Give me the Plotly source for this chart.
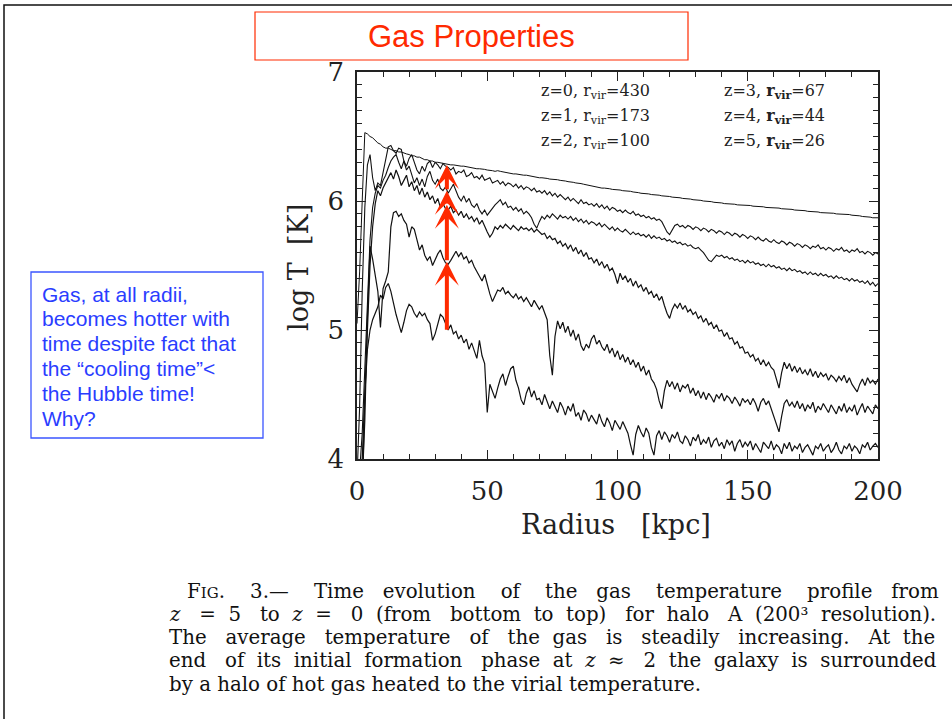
import re
import plotly.graph_objects as go

# ---------------------------------------------------------------------------
# Gas temperature profiles (log T [K]) versus radius [kpc], one per redshift
# ---------------------------------------------------------------------------
RADIUS_KPC = list(range(0, 201))

REDSHIFTS = [0, 1, 2, 3, 4, 5]
R_VIR = [430, 173, 100, 67, 44, 26]

LOGT_Z0 = [
    5.05, 5.45, 6.00, 6.53, 6.52, 6.50, 6.49, 6.47, 6.45, 6.44,
    6.42, 6.41, 6.41, 6.40, 6.39, 6.39, 6.38, 6.38, 6.37, 6.365,
    6.36, 6.35, 6.35, 6.34, 6.34, 6.33, 6.32, 6.32, 6.31, 6.31,
    6.30, 6.30, 6.295, 6.29, 6.29, 6.285, 6.28, 6.28, 6.275, 6.27,
    6.27, 6.27, 6.265, 6.26, 6.26, 6.255, 6.25, 6.25, 6.25, 6.245,
    6.24, 6.24, 6.235, 6.23, 6.235, 6.23, 6.225, 6.22, 6.22, 6.215,
    6.21, 6.21, 6.205, 6.20, 6.20, 6.20, 6.195, 6.19, 6.19, 6.185,
    6.18, 6.18, 6.18, 6.175, 6.17, 6.17, 6.17, 6.165, 6.16, 6.16,
    6.155, 6.15, 6.15, 6.145, 6.14, 6.14, 6.135, 6.13, 6.125, 6.12,
    6.115, 6.11, 6.11, 6.105, 6.10, 6.10, 6.10, 6.095, 6.09, 6.09,
    6.09, 6.085, 6.08, 6.08, 6.08, 6.075, 6.07, 6.07, 6.065, 6.06,
    6.06, 6.06, 6.055, 6.05, 6.05, 6.05, 6.045, 6.04, 6.04, 6.04,
    6.035, 6.03, 6.03, 6.03, 6.025, 6.02, 6.02, 6.02, 6.015, 6.01,
    6.01, 6.01, 6.005, 6.00, 6.00, 6.00, 5.995, 5.99, 5.99, 5.99,
    5.985, 5.98, 5.98, 5.98, 5.98, 5.975, 5.97, 5.97, 5.97, 5.97,
    5.97, 5.965, 5.96, 5.96, 5.96, 5.96, 5.955, 5.95, 5.95, 5.95,
    5.95, 5.95, 5.945, 5.94, 5.94, 5.94, 5.94, 5.935, 5.93, 5.93,
    5.93, 5.93, 5.925, 5.92, 5.92, 5.92, 5.92, 5.915, 5.91, 5.91,
    5.91, 5.91, 5.91, 5.905, 5.90, 5.90, 5.90, 5.90, 5.90, 5.895,
    5.89, 5.89, 5.89, 5.885, 5.88, 5.88, 5.88, 5.875, 5.87, 5.87, 5.87,
]

LOGT_Z1 = [
    3.85, 4.40, 5.30, 5.95, 6.28, 6.36, 6.18, 6.08, 6.14, 6.12,
    6.22, 6.32, 6.42, 6.43, 6.39, 6.37, 6.41, 6.40, 6.31, 6.27,
    6.33, 6.36, 6.29, 6.24, 6.21, 6.27, 6.23, 6.29, 6.31, 6.26,
    6.30, 6.28, 6.25, 6.29, 6.27, 6.26, 6.24, 6.26, 6.21, 6.23,
    6.22, 6.24, 6.19, 6.20, 6.22, 6.18, 6.19, 6.17, 6.20, 6.16,
    6.17, 6.18, 6.14, 6.15, 6.16, 6.13, 6.15, 6.12, 6.14, 6.13,
    6.11, 6.13, 6.10, 6.12, 6.09, 6.11, 6.10, 6.08, 6.10, 6.07,
    6.08, 6.06, 6.08, 6.05, 6.07, 6.04, 6.06, 6.03, 6.05, 6.03,
    6.01, 6.03, 6.00, 6.02, 6.00, 5.98, 6.01, 5.98, 5.99, 5.97,
    5.98, 5.96, 5.98, 5.95, 5.97, 5.94, 5.96, 5.93, 5.95, 5.94,
    5.92, 5.93, 5.91, 5.93, 5.91, 5.90, 5.92, 5.89, 5.90, 5.88,
    5.89, 5.87, 5.88, 5.86, 5.87, 5.85, 5.86, 5.84, 5.80, 5.76,
    5.74, 5.78, 5.81, 5.82, 5.80, 5.81, 5.79, 5.81, 5.80, 5.78,
    5.80, 5.79, 5.77, 5.79, 5.78, 5.76, 5.78, 5.77, 5.75, 5.77,
    5.76, 5.74, 5.76, 5.75, 5.73, 5.75, 5.74, 5.72, 5.74, 5.73,
    5.71, 5.73, 5.72, 5.70, 5.72, 5.70, 5.69, 5.71, 5.69, 5.68,
    5.70, 5.68, 5.67, 5.69, 5.68, 5.66, 5.68, 5.67, 5.65, 5.67,
    5.66, 5.64, 5.66, 5.65, 5.63, 5.65, 5.64, 5.66, 5.63, 5.64,
    5.62, 5.64, 5.63, 5.61, 5.63, 5.62, 5.64, 5.61, 5.62, 5.60,
    5.62, 5.61, 5.63, 5.60, 5.61, 5.59, 5.61, 5.60, 5.58, 5.60, 5.59,
]

LOGT_Z2 = [
    3.80, 3.90, 4.20, 4.70, 5.30, 5.70, 5.95, 6.06, 6.12, 6.10,
    6.16, 6.20, 6.26, 6.31, 6.34, 6.36, 6.30, 6.25, 6.31, 6.24,
    6.27, 6.20, 6.14, 6.18, 6.12, 6.17, 6.11, 6.19, 6.23, 6.16,
    6.13, 6.17, 6.10, 6.08, 6.11, 6.06, 6.09, 6.13, 6.08, 6.03,
    6.00, 6.04, 5.99, 6.02, 5.97, 5.95, 5.98, 5.93, 5.90, 5.93,
    5.89, 5.92, 5.95, 5.97, 5.99, 6.01, 5.97, 5.99, 5.95, 5.96,
    5.93, 5.95, 5.92, 5.94, 5.90, 5.92, 5.90, 5.87, 5.82, 5.79,
    5.84, 5.88, 5.86, 5.89, 5.87, 5.90, 5.88, 5.86, 5.89, 5.87,
    5.88, 5.86, 5.88, 5.85, 5.87, 5.84, 5.86, 5.83, 5.85, 5.82,
    5.84, 5.83, 5.81, 5.83, 5.80, 5.82, 5.80, 5.78, 5.80, 5.77,
    5.79, 5.77, 5.76, 5.78, 5.76, 5.74, 5.76, 5.74, 5.75, 5.73,
    5.74, 5.72, 5.74, 5.71, 5.73, 5.71, 5.72, 5.70, 5.71, 5.69,
    5.70, 5.68, 5.69, 5.67, 5.68, 5.66, 5.67, 5.65, 5.66, 5.64,
    5.63, 5.64, 5.62, 5.60, 5.57, 5.54, 5.53, 5.56, 5.58, 5.57,
    5.58, 5.56, 5.57, 5.55, 5.56, 5.54, 5.55, 5.53, 5.54, 5.52,
    5.54, 5.52, 5.53, 5.51, 5.52, 5.50, 5.51, 5.49, 5.51, 5.49,
    5.50, 5.48, 5.49, 5.47, 5.48, 5.46, 5.48, 5.46, 5.47, 5.45,
    5.46, 5.44, 5.45, 5.43, 5.45, 5.43, 5.44, 5.42, 5.44, 5.42,
    5.43, 5.41, 5.42, 5.40, 5.42, 5.40, 5.41, 5.39, 5.40, 5.38,
    5.40, 5.38, 5.39, 5.37, 5.38, 5.36, 5.38, 5.35, 5.37, 5.34, 5.36,
]

LOGT_Z3 = [
    3.60, 3.70, 4.00, 4.50, 5.10, 5.50, 5.80, 5.98, 6.08, 6.04,
    6.10, 6.14, 6.18, 6.22, 6.17, 6.24, 6.19, 6.12, 6.16, 6.20,
    6.11, 6.15, 6.08, 6.12, 6.05, 6.10, 6.03, 6.07, 6.01, 6.04,
    5.98, 6.02, 5.95, 5.98, 5.94, 5.93, 5.96, 5.91, 5.93, 5.89,
    5.92, 5.87, 5.90, 5.86, 5.88, 5.84, 5.87, 5.82, 5.85, 5.80,
    5.76, 5.72, 5.75, 5.80, 5.78, 5.81, 5.79, 5.82, 5.80, 5.78,
    5.81, 5.79, 5.77, 5.80, 5.78, 5.79, 5.77, 5.79, 5.76, 5.78,
    5.76, 5.74, 5.75, 5.71, 5.73, 5.70, 5.71, 5.67, 5.69, 5.65,
    5.67, 5.63, 5.66, 5.61, 5.64, 5.59, 5.62, 5.57, 5.60, 5.55,
    5.56, 5.52, 5.55, 5.50, 5.53, 5.48, 5.51, 5.46, 5.48, 5.43,
    5.36, 5.44, 5.39, 5.42, 5.37, 5.40, 5.34, 5.38, 5.33, 5.35,
    5.30, 5.33, 5.28, 5.30, 5.25, 5.28, 5.23, 5.26, 5.19, 5.13,
    5.09, 5.16, 5.20, 5.17, 5.21, 5.16, 5.19, 5.14, 5.16, 5.12,
    5.14, 5.09, 5.11, 5.06, 5.09, 5.04, 5.06, 5.01, 5.04, 4.99,
    5.00, 4.95, 4.98, 4.93, 4.94, 4.89, 4.91, 4.86, 4.87, 4.82,
    4.83, 4.79, 4.81, 4.76, 4.78, 4.73, 4.77, 4.72, 4.75, 4.71,
    4.69, 4.62, 4.55, 4.67, 4.75, 4.70, 4.74, 4.68, 4.72, 4.67,
    4.71, 4.66, 4.69, 4.65, 4.70, 4.64, 4.68, 4.63, 4.67, 4.64,
    4.66, 4.61, 4.65, 4.63, 4.60, 4.64, 4.61, 4.65, 4.59, 4.63,
    4.58, 4.55, 4.52, 4.58, 4.62, 4.57, 4.63, 4.59, 4.61, 4.58, 4.62,
]

LOGT_Z4 = [
    3.50, 3.60, 3.80, 4.30, 5.10, 5.65, 5.55, 5.42, 5.30, 5.02,
    5.32, 5.38, 5.45, 5.80, 5.91, 5.92, 5.88, 5.90, 5.85, 5.82,
    5.72, 5.80, 5.78, 5.70, 5.62, 5.66, 5.58, 5.54, 5.57, 5.50,
    5.55, 5.59, 5.62, 5.56, 5.52, 5.51, 5.54, 5.58, 5.61, 5.57,
    5.60, 5.55, 5.57, 5.52, 5.54, 5.49, 5.45, 5.42, 5.38, 5.43,
    5.35, 5.28, 5.22, 5.27, 5.31, 5.30, 5.33, 5.28, 5.30, 5.27,
    5.25, 5.28, 5.24, 5.26, 5.22, 5.25, 5.21, 5.18, 5.23, 5.20,
    5.16, 5.19, 5.13, 5.08, 4.80, 4.65, 4.95, 5.07, 5.01, 5.06,
    4.98, 5.03, 4.95, 5.00, 4.92, 4.97, 4.88, 4.84, 4.89, 4.86,
    4.93, 4.96, 4.89, 4.92, 4.87, 4.84, 4.89, 4.82, 4.86, 4.79,
    4.84, 4.77, 4.81, 4.75, 4.79, 4.73, 4.77, 4.71, 4.75, 4.68,
    4.72, 4.65, 4.69, 4.62, 4.59, 4.54, 4.45, 4.39, 4.53, 4.61,
    4.56, 4.60, 4.54, 4.59, 4.52, 4.57, 4.55, 4.58, 4.51, 4.55,
    4.49, 4.53, 4.47, 4.52, 4.46, 4.51, 4.48, 4.44, 4.50, 4.47,
    4.51, 4.45, 4.49, 4.47, 4.43, 4.48, 4.45, 4.41, 4.47, 4.44,
    4.46, 4.42, 4.47, 4.43, 4.37, 4.44, 4.47, 4.42, 4.45, 4.39,
    4.34, 4.27, 4.21, 4.33, 4.43, 4.46, 4.41, 4.44, 4.40, 4.45,
    4.39, 4.43, 4.37, 4.42, 4.39, 4.44, 4.36, 4.41, 4.38, 4.43,
    4.40, 4.36, 4.42, 4.38, 4.35, 4.41, 4.37, 4.43, 4.36, 4.40,
    4.37, 4.42, 4.34, 4.39, 4.43, 4.36, 4.41, 4.38, 4.35, 4.42, 4.39,
]

LOGT_Z5 = [
    3.50, 3.55, 3.70, 4.50, 4.85, 5.00, 5.08, 5.13, 5.18, 5.27,
    5.24, 5.33, 5.36, 5.30, 5.20, 5.12, 5.05, 4.98, 5.06, 5.15,
    5.20, 5.18, 5.13, 5.10, 5.14, 5.11, 5.13, 5.08, 5.05, 4.92,
    4.97, 5.05, 5.12, 5.10, 5.05, 5.00, 5.04, 4.97, 4.99, 4.93,
    4.96, 4.90, 4.93, 4.85, 4.90, 4.84, 4.78, 4.92, 4.80, 4.74,
    4.36, 4.58, 4.52, 4.47, 4.55, 4.62, 4.66, 4.57, 4.64, 4.70,
    4.72, 4.61, 4.55, 4.46, 4.42, 4.51, 4.56, 4.48, 4.53, 4.46,
    4.47, 4.42, 4.50, 4.44, 4.39, 4.45, 4.41, 4.36, 4.44, 4.40,
    4.34, 4.41, 4.37, 4.43, 4.33, 4.36, 4.30, 4.38, 4.35, 4.29,
    4.34, 4.31, 4.27, 4.35, 4.29, 4.25, 4.32, 4.28, 4.22, 4.30,
    4.26, 4.23, 4.29, 4.24, 4.20, 4.11, 4.03, 4.19, 4.26, 4.21,
    4.17, 4.24, 4.20, 4.09, 4.03, 4.18, 4.22, 4.15, 4.21, 4.18,
    4.13, 4.19, 4.16, 4.21, 4.14, 4.12, 4.18, 4.15, 4.10, 4.17,
    4.14, 4.19, 4.11, 4.15, 4.12, 4.17, 4.09, 4.14, 4.16, 4.10,
    4.13, 4.08, 4.15, 4.11, 4.14, 4.06, 4.12, 4.15, 4.09, 4.13,
    4.10, 4.14, 4.07, 4.12, 4.09, 4.05, 4.13, 4.10, 4.08, 4.14,
    4.07, 4.11, 4.09, 4.04, 4.12, 4.08, 4.13, 4.06, 4.10, 4.08,
    4.12, 4.05, 4.09, 4.11, 4.07, 4.03, 4.10, 4.08, 4.12, 4.06,
    4.09, 4.11, 4.05, 4.08, 4.13, 4.07, 4.04, 4.10, 4.08, 4.12,
    4.06, 4.10, 4.08, 4.04, 4.11, 4.09, 4.13, 4.07, 4.10, 4.12, 4.09,
]

PROFILES = [LOGT_Z0, LOGT_Z1, LOGT_Z2, LOGT_Z3, LOGT_Z4, LOGT_Z5]
LINE_WIDTHS = [1.0, 1.1, 1.1, 1.2, 1.2, 1.2]

# Red arrow at r = 34.5 kpc, stepping through the profiles from z=5 up to z=0
ARROW_RADIUS = 34.5
ARROW_STOPS = [4.99, 5.53, 5.97, 6.08, 6.28]

X_TICKS = [0, 50, 100, 150, 200]
Y_TICKS = [4, 5, 6, 7]

CAPTION_LINES = [
    "F<span style='font-size:15px'>IG</span>. 3.— Time evolution of the gas temperature profile from",
    "<i>z</i> = 5 to <i>z</i> = 0 (from bottom to top) for halo A (200³ resolution).",
    "The average temperature of the gas is steadily increasing. At the",
    "end of its initial formation phase at <i>z</i> ≈ 2 the galaxy is surrounded",
    "by a halo of hot gas heated to the virial temperature.",
]
# extra non-breaking spaces spread over the word gaps of each justified line
CAPTION_PAD = [24, 21, 18, 16, 0]

NOTE_LINES = [
    "Gas, at all radii,",
    "becomes hotter with",
    "time despite fact that",
    "the “cooling time”&lt;",
    "the Hubble time!",
    "Why?",
]

# ---------------------------------------------------------------------------
# Page geometry (pixels) and helpers to place items in paper coordinates
# ---------------------------------------------------------------------------
W, H = 952, 719
M_L, M_R, M_T, M_B = 357, 74, 72, 260


def fx(px):
    return (px - M_L) / (W - M_L - M_R)


def fy(py):
    return 1 - (py - M_T) / (H - M_T - M_B)


def spread_words(line, pad):
    """Widen the word gaps of a caption line so it reaches the right margin."""
    words = re.split(r" (?![^<]*>)", line)
    gaps = len(words) - 1
    if pad <= 0 or gaps <= 0:
        return line
    base, extra = divmod(pad, gaps)
    step = gaps / extra if extra else 0
    widen = {int(i * step) for i in range(extra)}
    out = words[0]
    for i, w in enumerate(words[1:]):
        n = base + (1 if i in widen else 0)
        out += " " + "&nbsp;" * n + w
    return out


SERIF = "DejaVu Serif"
SANS = "Liberation Sans, Arial, sans-serif"
RED = "#FF2A00"
BLUE = "#2A3DFF"
INK = "#222222"

fig = go.Figure()

for z, temps, lw in zip(REDSHIFTS, PROFILES, LINE_WIDTHS):
    fig.add_trace(go.Scatter(
        x=RADIUS_KPC, y=temps, mode="lines", name=f"z={z}",
        line=dict(color="#111111", width=lw),
        showlegend=False, hoverinfo="skip",
    ))

# legend-like labels, two columns of three
for i, (z, rv) in enumerate(zip(REDSHIFTS, R_VIR)):
    col, row = divmod(i, 3)
    if col == 0:
        txt = f"z={z}, r<sub>vir</sub>={rv}"
    else:
        txt = f"z={z}, <b>r</b><sub><b>vir</b></sub>={rv}"
    fig.add_annotation(
        xref="paper", yref="paper", x=fx([539, 722][col]), y=fy([91, 116, 141][row]),
        xanchor="left", yanchor="middle", showarrow=False, text=txt,
        font=dict(family=SERIF, size=16, color=INK),
    )

# stacked red arrows
for tail, tip in zip(ARROW_STOPS[:-1], ARROW_STOPS[1:]):
    fig.add_annotation(
        x=ARROW_RADIUS, y=tip, ax=ARROW_RADIUS, ay=tail,
        xref="x", yref="y", axref="x", ayref="y", text="",
        showarrow=True, arrowhead=3, arrowsize=1.0, arrowwidth=4,
        arrowcolor=RED, standoff=0, startstandoff=0,
    )

# axis titles
fig.add_annotation(
    xref="paper", yref="paper", x=fx(616), y=fy(524), showarrow=False,
    text="Radius\u00a0\u00a0\u00a0[kpc]", xanchor="center", yanchor="middle",
    font=dict(family=SERIF, size=27, color=INK),
)
fig.add_annotation(
    xref="paper", yref="paper", x=fx(298), y=fy(268), showarrow=False,
    text="log\u00a0T\u00a0\u00a0[K]", textangle=-90, xanchor="center", yanchor="middle",
    font=dict(family=SERIF, size=27, color=INK),
)

# slide title in a red box
fig.add_shape(type="rect", xref="paper", yref="paper",
              x0=fx(255), x1=fx(688), y0=fy(60), y1=fy(12),
              line=dict(color=RED, width=1.2), fillcolor="white", layer="above")
fig.add_annotation(
    xref="paper", yref="paper", x=fx(471), y=fy(37), showarrow=False,
    text="Gas Properties", xanchor="center", yanchor="middle",
    font=dict(family=SANS, size=31, color=RED),
)

# side note in a blue box
fig.add_shape(type="rect", xref="paper", yref="paper",
              x0=fx(31), x1=fx(263), y0=fy(438), y1=fy(272),
              line=dict(color="#3B55FF", width=1.3), layer="above")
for k, line in enumerate(NOTE_LINES):
    fig.add_annotation(
        xref="paper", yref="paper", x=fx(40), y=fy(294 + 24.8 * k), showarrow=False,
        text=line, xanchor="left", yanchor="middle", align="left",
        font=dict(family=SANS, size=21, color=BLUE),
    )

# outer page border
fig.add_shape(type="rect", xref="paper", yref="paper",
              x0=fx(4), x1=fx(970), y0=fy(740), y1=fy(5),
              line=dict(color="#111111", width=1.5), layer="above")

# figure caption
for k, (line, pad) in enumerate(zip(CAPTION_LINES, CAPTION_PAD)):
    fig.add_annotation(
        xref="paper", yref="paper", x=fx(185 if k == 0 else 167), y=fy(591 + 23.3 * k),
        xanchor="left", yanchor="middle", showarrow=False, align="left",
        text=spread_words(line, pad), font=dict(family=SERIF, size=19.8, color="#111111"),
    )

axis_common = dict(
    showline=True, linecolor=INK, linewidth=1.5, mirror="ticks",
    ticks="inside", ticklen=9, tickwidth=1.2, tickcolor=INK,
    showgrid=False, zeroline=False,
    tickfont=dict(family=SERIF, size=26, color=INK),
)

fig.update_xaxes(
    range=[0, 200], tickvals=X_TICKS, ticktext=[str(v) for v in X_TICKS],
    minor=dict(dtick=10, tick0=0, ticks="inside", ticklen=5, tickwidth=1, tickcolor=INK),
    ticklabelstandoff=8, **axis_common,
)
fig.update_yaxes(
    range=[4, 7], tickvals=Y_TICKS, ticktext=[str(v) for v in Y_TICKS],
    minor=dict(dtick=0.1, tick0=4, ticks="inside", ticklen=5, tickwidth=1, tickcolor=INK),
    ticklabelstandoff=6, **axis_common,
)

fig.update_layout(
    width=W, height=H,
    margin=dict(l=M_L, r=M_R, t=M_T, b=M_B, pad=0),
    paper_bgcolor="white", plot_bgcolor="white",
    showlegend=False,
)

fig.write_html("out.html")
